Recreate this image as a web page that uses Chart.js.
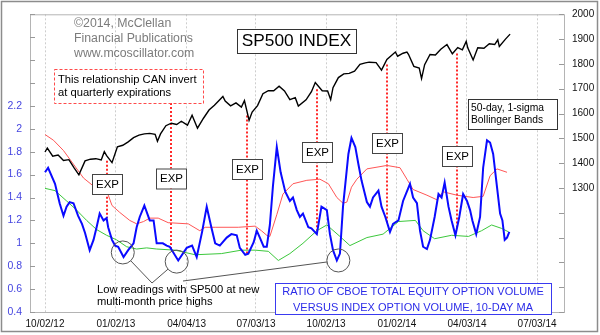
<!DOCTYPE html>
<html>
<head>
<meta charset="utf-8">
<script src="https://cdn.jsdelivr.net/npm/chart.js@4/dist/chart.umd.min.js"></script>
<style>
  body { margin: 0; background: #fff; }
  canvas { display: block; }
</style>
</head>
<body>
<canvas id="chart" width="600" height="335"></canvas>
<script>
// all x values are calendar days after 10/02/12
const tickDays = [0, 92, 184, 274, 365, 457, 548, 639];
const tickLabels = ['10/02/12', '01/02/13', '04/04/13', '07/03/13', '10/02/13', '01/02/14', '04/03/14', '07/03/14'];

// SP500 close (right axis)
const spDay = [0,3,10,17,24,31,38,44,52,59,66,73,77,80,87,94,101,108,115,122,129,136,143,146,150,157,164,171,177,185,191,198,206,213,220,231,234,241,248,255,259,265,269,276,283,290,297,304,311,318,325,329,339,346,351,360,367,371,374,381,388,395,402,409,416,421,430,437,444,455,458,465,470,472,479,486,489,493,500,507,514,522,529,536,542,547,549,556,562,570,577,584,588,590,598,604];
const spClose = [1445,1461,1428,1433,1411,1414,1380,1353,1409,1416,1418,1413,1446,1430,1402,1466,1472,1486,1503,1513,1518,1520,1516,1488,1518,1551,1561,1556,1569,1553,1593,1541,1582,1614,1633,1669,1650,1631,1643,1626,1652,1573,1606,1632,1680,1692,1692,1710,1691,1656,1664,1630,1655,1688,1725,1692,1691,1656,1704,1745,1760,1762,1771,1798,1804,1807,1805,1775,1818,1848,1831,1843,1848,1839,1790,1783,1741,1797,1838,1836,1859,1878,1841,1866,1857,1891,1865,1816,1865,1863,1881,1878,1897,1870,1900,1920];

// equity / index option volume ratio, 10-day MA (left axis)
const ratioDay = [0,4,13,19,24,28,32,37,43,48,52,58,63,67,71,76,80,82,87,91,95,102,108,115,119,123,129,136,141,145,153,158,162,173,184,191,197,204,210,216,221,227,236,242,249,253,260,264,271,275,279,284,288,292,296,301,306,312,318,322,327,331,335,342,346,353,359,366,370,374,379,383,387,394,398,403,407,411,418,422,426,433,437,442,448,452,459,465,474,478,483,487,491,496,500,506,511,515,519,524,528,533,538,543,548,552,555,560,565,569,574,578,582,587,591,594,597,600,603];
const ratio = [1.62,1.66,1.52,1.35,1.24,1.32,1.36,1.35,1.24,1.17,1.09,0.94,1.03,1.14,1.26,1.20,1.22,1.14,1.03,0.98,0.97,0.88,0.94,1.00,1.14,1.23,1.33,1.20,1.20,1.00,1.00,0.98,0.97,0.85,0.96,0.98,0.88,1.10,1.32,1.14,1.00,0.98,1.05,1.08,1.07,0.96,0.90,0.91,1.01,1.11,1.05,0.97,0.97,1.16,1.50,1.84,1.62,1.45,1.37,1.40,1.29,1.23,1.26,1.14,1.13,1.08,1.32,1.29,1.08,0.94,0.85,0.91,1.32,1.78,1.92,1.84,1.69,1.55,1.36,1.32,1.40,1.46,1.32,1.23,1.10,1.17,1.20,1.37,1.52,1.40,1.35,1.11,0.97,0.95,1.03,1.23,1.43,1.40,1.53,1.32,1.20,1.07,1.23,1.43,1.37,1.29,1.20,1.08,1.23,1.66,1.90,1.88,1.78,1.49,1.26,1.20,1.03,1.05,1.10];

// 50-day 1-sigma Bollinger bands
const upperDay = [0,11,24,37,50,61,74,80,87,97,110,119,128,136,147,160,186,201,208,221,251,273,281,288,292,301,309,322,340,357,368,379,387,392,398,405,418,444,461,470,478,496,509,517,535,556,569,578,587,600];
const upperBand = [1.95,1.90,1.81,1.69,1.57,1.51,1.49,1.46,1.33,1.27,1.20,1.17,1.19,1.22,1.22,1.18,1.17,1.11,1.14,1.14,1.14,1.15,1.11,1.07,1.06,1.25,1.43,1.52,1.55,1.56,1.52,1.40,1.35,1.36,1.49,1.56,1.65,1.68,1.66,1.56,1.47,1.42,1.38,1.45,1.42,1.40,1.41,1.59,1.65,1.62];
const lowerDay = [0,13,28,41,54,67,80,93,106,119,132,145,169,195,229,255,273,290,303,318,335,353,366,383,396,418,439,459,481,491,506,528,550,567,580,593,602];
const lowerBand = [1.48,1.46,1.37,1.29,1.20,1.12,1.07,1.03,0.97,0.95,0.96,0.95,0.94,0.90,0.91,0.94,0.94,0.93,0.85,0.91,1.00,1.11,1.16,1.06,0.98,1.05,1.08,1.19,1.20,1.11,1.04,1.07,1.06,1.11,1.16,1.13,1.10];

// quarterly expirations and circled lows
const expDay = [80, 164, 262, 353, 444, 535];
const lowDay = [101, 171, 381];
const lowRatio = [0.92, 0.84, 0.85];

const FONT = '"Liberation Sans", Arial, sans-serif';

function pts(xs, ys) {
  return xs.map((x, i) => ({ x: x, y: ys[i] }));
}

function valueAt(xs, ys, d) {
  for (let i = 1; i < xs.length; i++) {
    if (xs[i] >= d) {
      const t = (d - xs[i - 1]) / (xs[i] - xs[i - 1]);
      return ys[i - 1] + t * (ys[i] - ys[i - 1]);
    }
  }
  return ys[ys.length - 1];
}

function box(ctx, x, y, w, h, color, dash) {
  ctx.save();
  ctx.fillStyle = '#fff';
  ctx.fillRect(x, y, w, h);
  ctx.strokeStyle = color;
  ctx.lineWidth = 1;
  ctx.setLineDash(dash || []);
  ctx.strokeRect(x + 0.5, y + 0.5, w, h);
  ctx.restore();
}

function text(ctx, str, x, y, size, color, align) {
  ctx.font = size + 'px ' + FONT;
  ctx.fillStyle = color;
  ctx.textAlign = align || 'left';
  ctx.textBaseline = 'middle';
  ctx.fillText(str, x, y);
}

const notes = {
  id: 'notes',
  beforeDraw(chart) {
    const ctx = chart.ctx;
    ctx.save();
    ctx.fillStyle = '#fff';
    ctx.fillRect(0, 0, chart.width, chart.height);
    ctx.strokeStyle = '#8c8c8c';
    ctx.lineWidth = 1.5;
    ctx.strokeRect(1.5, 1.5, 596, 330);
    ctx.restore();
  },
  beforeDatasetsDraw(chart) {
    const ctx = chart.ctx;
    const { x, yL, yR } = chart.scales;
    const area = chart.chartArea;
    ctx.save();
    // frame of the plot
    ctx.strokeStyle = '#b4b4b4';
    ctx.lineWidth = 1;
    ctx.strokeRect(area.left + 0.5, area.top + 0.5, area.right - area.left, area.bottom - area.top);
    // inward tick marks
    ctx.strokeStyle = '#999';
    ctx.beginPath();
    yL.ticks.forEach(t => {
      const py = Math.round(yL.getPixelForValue(t.value)) + 0.5;
      ctx.moveTo(area.left, py); ctx.lineTo(area.left + 5, py);
    });
    yR.ticks.forEach(t => {
      const py = Math.round(yR.getPixelForValue(t.value)) + 0.5;
      ctx.moveTo(area.right - 5, py); ctx.lineTo(area.right, py);
    });
    ctx.stroke();

    // red dotted expiration lines, SP500 down to the ratio
    ctx.strokeStyle = '#ff2a2a';
    ctx.lineWidth = 2;
    ctx.setLineDash([2, 2]);
    ctx.beginPath();
    expDay.forEach((d, i) => {
      const px = Math.round(x.getPixelForValue(d));
      const top = i === 1 ? 103 : yR.getPixelForValue(valueAt(spDay, spClose, d)) + 5;
      ctx.moveTo(px, top);
      ctx.lineTo(px, yL.getPixelForValue(valueAt(ratioDay, ratio, d)));
    });
    ctx.stroke();
    ctx.restore();
  },
  afterDatasetsDraw(chart) {
    const ctx = chart.ctx;
    const { x, yL } = chart.scales;
    ctx.save();

    // copyright
    text(ctx, '\u00a92014, McClellan', 74, 24, 12.3, '#7c7c7c');
    text(ctx, 'Financial Publications', 74, 39, 12.3, '#7c7c7c');
    text(ctx, 'www.mcoscillator.com', 74, 54, 12.3, '#7c7c7c');

    // title
    box(ctx, 237, 29, 119, 24, '#333');
    text(ctx, 'SP500 INDEX', 296.5, 41.5, 17.3, '#000', 'center');

    // note about expirations
    box(ctx, 54, 69, 149, 34, '#ff4a4a', [3, 2]);
    text(ctx, 'This relationship CAN invert', 58, 80, 11.2, '#000');
    text(ctx, 'at quarterly expirations', 58, 93, 11.2, '#000');

    // band note
    box(ctx, 468, 99, 89, 30, '#333');
    text(ctx, '50-day, 1-sigma', 471, 108.5, 10.3, '#000');
    text(ctx, 'Bollinger Bands', 471, 120.5, 10.3, '#000');

    // EXP labels
    const expBoxY = [184, 178.5, 169, 152, 143, 156];
    expDay.forEach((d, i) => {
      const px = Math.round(x.getPixelForValue(d));
      box(ctx, px - 15, expBoxY[i] - 10, 30, 20, '#444');
      text(ctx, 'EXP', px + 0.5, expBoxY[i] + 0.5, 11.5, '#000', 'center');
    });

    // circled lows and leader lines
    const r = 11.5;
    const anchors = [[152, 283], [152, 283], [183, 281]];
    ctx.strokeStyle = '#555';
    ctx.lineWidth = 1;
    lowDay.forEach((d, i) => {
      const cx = x.getPixelForValue(d);
      const cy = yL.getPixelForValue(lowRatio[i]);
      ctx.beginPath();
      ctx.arc(cx, cy, r, 0, Math.PI * 2);
      ctx.stroke();
      const [ax, ay] = anchors[i];
      const len = Math.hypot(ax - cx, ay - cy);
      ctx.beginPath();
      ctx.moveTo(ax, ay);
      ctx.lineTo(cx + (ax - cx) / len * r, cy + (ay - cy) / len * r);
      ctx.stroke();
    });
    text(ctx, 'Low readings with SP500 at new', 97, 289.5, 11.2, '#000');
    text(ctx, 'multi-month price highs', 97, 301.7, 11.2, '#000');

    // ratio title
    box(ctx, 275, 283, 276, 31, '#3a3af0');
    text(ctx, 'RATIO OF CBOE TOTAL EQUITY OPTION VOLUME', 413, 292, 11, '#2b2be8', 'center');
    text(ctx, 'VERSUS INDEX OPTION VOLUME, 10-DAY MA', 413, 307.5, 11, '#2b2be8', 'center');

    ctx.restore();
  }
};

const ctx = document.getElementById('chart').getContext('2d');
const chart = new Chart(ctx, {
  type: 'line',
  data: {
    datasets: [
      { label: 'Ratio', data: pts(ratioDay, ratio), yAxisID: 'yL', borderColor: '#0a0aff', borderWidth: 2, order: 0 },
      { label: 'SP500', data: pts(spDay, spClose), yAxisID: 'yR', borderColor: '#000', borderWidth: 1.4, order: 1 },
      { label: 'Upper band', data: pts(upperDay, upperBand), yAxisID: 'yL', borderColor: '#ff5656', borderWidth: 1, order: 2 },
      { label: 'Lower band', data: pts(lowerDay, lowerBand), yAxisID: 'yL', borderColor: '#3cc83c', borderWidth: 1, order: 3 }
    ]
  },
  options: {
    responsive: false,
    animation: false,
    layout: { padding: { top: 12, left: 0, right: 0, bottom: 0 } },
    elements: { point: { radius: 0 }, line: { tension: 0, fill: false } },
    plugins: { legend: { display: false }, tooltip: { enabled: false } },
    scales: {
      x: {
        type: 'linear',
        min: -19.5,
        max: 674,
        afterBuildTicks: s => { s.ticks = tickDays.map(v => ({ value: v })); },
        afterFit: s => { s.height = 23; },
        ticks: {
          autoSkip: false,
          maxRotation: 0,
          padding: 6,
          color: '#111',
          font: { family: FONT, size: 10 },
          callback: (v, i) => tickLabels[i]
        },
        grid: { color: '#cdcdcd', drawTicks: false },
        border: { display: false, dash: [2, 2] }
      },
      yL: {
        position: 'left',
        min: 0.4,
        max: 3.0,
        afterFit: s => { s.width = 30; },
        ticks: {
          stepSize: 0.2,
          padding: 8,
          autoSkip: false,
          color: '#4545e0',
          font: { family: FONT, size: 10.5 },
          callback: v => (v <= 2.21 ? String(Number(v.toFixed(1))) : '')
        },
        grid: { display: false, drawTicks: false },
        border: { display: false }
      },
      yR: {
        position: 'right',
        min: 800,
        max: 2000,
        afterFit: s => { s.width = 36; },
        ticks: {
          stepSize: 100,
          padding: 8,
          autoSkip: false,
          color: '#111',
          font: { family: FONT, size: 10 },
          callback: v => (v >= 1300 ? String(v) : '')
        },
        grid: { display: false, drawTicks: false },
        border: { display: false }
      }
    }
  },
  plugins: [notes]
});
</script>
</body>
</html>
